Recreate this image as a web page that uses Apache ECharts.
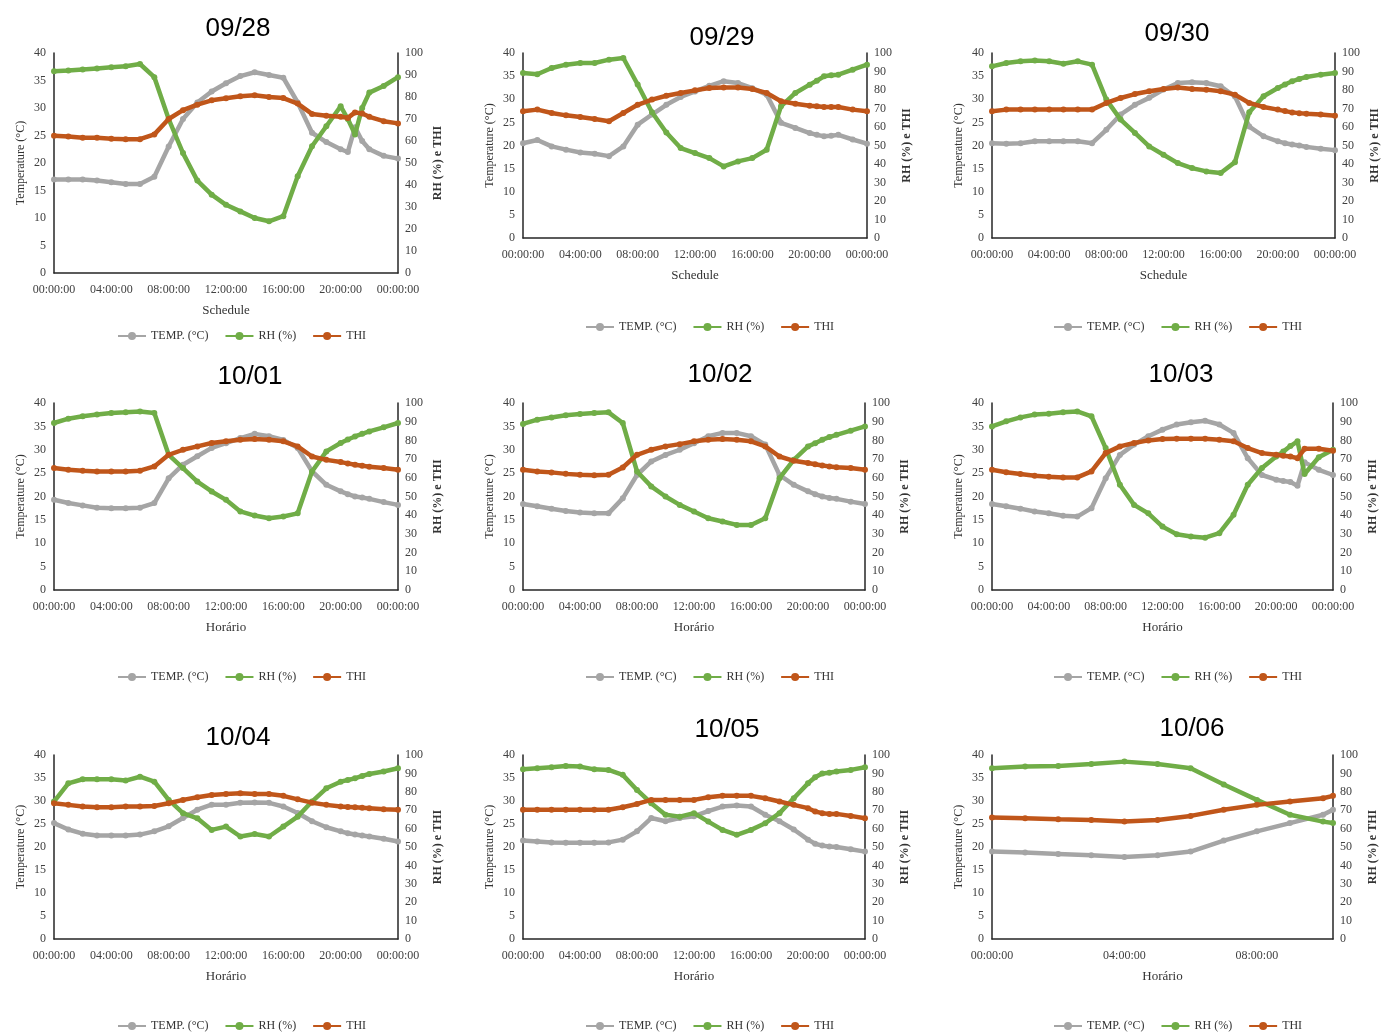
<!DOCTYPE html>
<html>
<head>
<meta charset="utf-8">
<title>TEMP, RH e THI</title>
<script src="https://cdn.jsdelivr.net/npm/echarts@6.0.0/dist/echarts.min.js"></script>
<style>
  html, body { margin: 0; padding: 0; background: #fff; }
  #main { width: 1387px; height: 1032px; }
</style>
</head>
<body>
<div id="main"></div>
<script>
// horas de leitura (dias completos) e o dia 10/06 que acaba por volta das 10h
var HOURS = [0, 1, 2, 3, 4, 5, 6, 7, 8, 9, 10, 11, 12, 13, 14, 15, 16, 17, 18, 19, 20, 20.5, 21, 21.5, 22, 23, 24];
var HOURS_1006 = [0, 1, 2, 3, 4, 5, 6, 7, 8, 9, 10, 10.3];

var SERIES_NAMES = ['TEMP. (°C)', 'RH (%)', 'THI'];

// 09/28
var TEMP_0928 = [17, 17, 17, 16.8, 16.5, 16.2, 16.2, 17.5, 23, 28, 31, 33, 34.5, 35.8, 36.5, 36, 35.5, 31, 25.5, 23.8, 22.5, 22, 26.5, 24, 22.5, 21.3, 20.8];
var RH_0928 = [91.7, 92, 92.5, 93, 93.5, 94, 95, 89, 70, 54.5, 42, 35.6, 31, 28, 25, 23.5, 25.8, 44, 57.6, 66.7, 75.8, 70, 63, 75, 82, 85, 89];
var THI_0928 = [62.4, 62, 61.5, 61.5, 61, 60.8, 60.8, 63, 70, 74, 76.5, 78.5, 79.4, 80.3, 80.8, 80, 79.5, 77, 72.3, 71.5, 71, 70.5, 73, 72.5, 71, 69, 68];
// 09/29
var TEMP_0929 = [20.5, 21.2, 19.8, 19.1, 18.5, 18.2, 17.7, 19.8, 24.5, 26.7, 28.8, 30.5, 31.7, 32.9, 33.9, 33.5, 32.4, 31, 24.9, 23.8, 22.7, 22.3, 22, 22.1, 22.3, 21.3, 20.4];
var RH_0929 = [89.2, 88.5, 91.9, 93.7, 94.6, 94.6, 96.4, 97.3, 83, 68, 57, 48.6, 45.9, 43.2, 38.7, 41.4, 43.2, 47.7, 71.2, 78.4, 82.9, 85, 87.4, 88, 88.3, 91, 93.7];
var THI_0929 = [68.5, 69.4, 67.6, 66.3, 65.4, 64.3, 63.1, 67.6, 72, 74.8, 76.9, 78.4, 79.8, 81.1, 81.4, 81.4, 80.5, 78.4, 73.9, 72.6, 71.5, 71.2, 70.8, 70.8, 70.8, 69.4, 68.5];
// 09/30
var TEMP_0930 = [20.5, 20.4, 20.5, 20.9, 20.9, 20.9, 20.9, 20.5, 23.4, 26.7, 28.8, 30.3, 32.1, 33.5, 33.7, 33.5, 32.8, 30.6, 24.1, 22, 20.9, 20.5, 20.2, 20, 19.7, 19.3, 19];
var RH_0930 = [92.8, 94.6, 95.5, 96, 95.5, 94.2, 95.5, 93.7, 74.8, 64, 56.8, 49.5, 45, 40.5, 37.8, 36, 35.1, 41, 68, 76.6, 81.1, 83, 84.7, 86, 87, 88.3, 89.2];
var THI_0930 = [68.5, 69.4, 69.4, 69.4, 69.4, 69.4, 69.4, 69.4, 73, 75.7, 77.8, 79.3, 80.5, 81.4, 80.5, 80.2, 79.3, 77.5, 73, 70.8, 69.4, 68.6, 67.9, 67.5, 67.2, 66.7, 66.1];
// 10/01
var TEMP_1001 = [19.3, 18.6, 18.1, 17.6, 17.5, 17.5, 17.6, 18.6, 23.9, 26.8, 28.6, 30.4, 31.4, 32.5, 33.4, 32.9, 32.1, 30.4, 25.4, 22.5, 21.1, 20.5, 20, 19.8, 19.5, 18.8, 18.2];
var RH_1001 = [89.3, 91.6, 92.9, 93.8, 94.6, 95, 95.5, 94.6, 72.3, 65.2, 58, 52.7, 48.2, 42, 39.8, 38.4, 39.3, 41, 63.4, 74.1, 78.6, 80.5, 82.1, 83.5, 84.8, 87, 89.3];
var THI_1001 = [65.2, 64.3, 63.8, 63.4, 63.4, 63.4, 63.8, 66.1, 72.3, 75, 76.8, 78.6, 79.5, 80.4, 80.7, 80.4, 79.5, 76.8, 71.4, 69.6, 68.4, 67.7, 67, 66.5, 65.9, 65.2, 64.3];
// 10/02
var TEMP_1002 = [18.4, 17.9, 17.4, 16.9, 16.6, 16.4, 16.4, 19.6, 24.6, 27.5, 28.9, 30, 31.4, 32.9, 33.6, 33.6, 32.9, 31.1, 24.6, 22.5, 21.1, 20.5, 20, 19.7, 19.5, 18.9, 18.4];
var RH_1002 = [88.8, 91.1, 92.3, 93.4, 94.1, 94.6, 95, 89.3, 63.4, 55.4, 50, 45.5, 42, 38.4, 36.6, 34.8, 34.8, 38.4, 59.8, 69.6, 76.8, 78.5, 80.4, 81.8, 83, 85.2, 87.5];
var THI_1002 = [64.3, 63.4, 62.9, 62.1, 61.6, 61.3, 61.6, 65.5, 72.3, 75, 76.8, 78, 79.5, 80.4, 80.7, 80.4, 79.5, 76.8, 71.4, 69.1, 67.9, 67.2, 66.6, 66.1, 65.7, 65.2, 64.3];
// 10/03
var TEMP_1003 = [18.4, 17.9, 17.4, 16.8, 16.4, 15.9, 15.7, 17.5, 23.9, 28.9, 31.1, 32.9, 34.3, 35.4, 35.9, 36.2, 35.4, 33.6, 28.2, 24.6, 23.6, 23.3, 23.1, 22.3, 27.3, 25.7, 24.6];
var RH_1003 = [87.5, 90.2, 92.3, 93.8, 94.3, 95, 95.5, 92.9, 75.9, 56.3, 45.5, 41, 33.9, 29.8, 28.6, 28, 30.4, 40.2, 56.3, 65.2, 71.4, 74, 77, 79.5, 62, 71, 75];
var THI_1003 = [64.3, 63, 62, 61.1, 60.5, 60.2, 60.2, 63.4, 73.2, 76.8, 78.6, 80, 80.7, 80.9, 80.9, 80.9, 80.4, 79.5, 75.9, 73.2, 72.3, 71.8, 71.4, 70.5, 75.5, 75.5, 74.5];
// 10/04
var TEMP_1004 = [25.2, 23.8, 22.9, 22.5, 22.5, 22.5, 22.7, 23.4, 24.5, 26.3, 28.1, 29.2, 29.2, 29.6, 29.7, 29.6, 28.8, 27.4, 25.6, 24.3, 23.4, 23, 22.7, 22.5, 22.3, 21.8, 21.2];
var RH_1004 = [74.7, 84.6, 86.8, 86.8, 86.8, 86.1, 88.2, 85.5, 75.6, 68.4, 65.6, 59.3, 61.1, 55.7, 57.1, 55.7, 61.1, 66.5, 74.7, 81.9, 85.5, 86.4, 87.3, 88.6, 89.7, 91, 92.8];
var THI_1004 = [73.8, 72.9, 72, 71.6, 71.6, 72, 72, 72.3, 73.8, 75.6, 77, 78.3, 78.8, 79.2, 78.8, 78.8, 77.8, 75.9, 74.1, 72.9, 72, 71.8, 71.6, 71.3, 71.1, 70.5, 70.2];
// 10/05
var TEMP_1005 = [21.4, 21.2, 21, 20.9, 20.9, 20.9, 21, 21.6, 23.4, 26.3, 25.6, 26.3, 26.7, 27.8, 28.8, 29, 28.8, 27, 25.6, 23.8, 21.6, 20.7, 20.3, 20.1, 20, 19.5, 19];
var RH_1005 = [92.2, 92.8, 93.3, 94, 93.7, 92.2, 91.9, 89.2, 81, 73.8, 67.5, 66.5, 68.4, 63.8, 59.3, 56.6, 59.3, 62.9, 68.4, 76.5, 84.6, 87.9, 90, 90.4, 91, 91.9, 93.3];
var THI_1005 = [70.2, 70.2, 70.2, 70.2, 70.2, 70.2, 70.2, 71.6, 73.4, 75.6, 75.6, 75.6, 75.6, 77, 77.8, 77.8, 77.8, 76.5, 74.7, 72.9, 71.1, 69.3, 68.4, 68, 68, 66.9, 65.6];
// 10/06
var TEMP_1006 = [19, 18.8, 18.5, 18.2, 17.8, 18.2, 19, 21.4, 23.4, 25.2, 27, 28.1];
var RH_1006 = [92.8, 93.7, 94, 95.1, 96.4, 95.1, 92.8, 84, 75.6, 67.5, 63.8, 63];
var THI_1006 = [66, 65.6, 65.1, 64.7, 63.8, 64.7, 66.9, 70.2, 72.9, 74.7, 76.5, 77.8];

var panels = [
    { day: '09/28', hours: HOURS, xName: 'Schedule', data: [TEMP_0928, RH_0928, THI_0928] },
    { day: '09/29', hours: HOURS, xName: 'Schedule', data: [TEMP_0929, RH_0929, THI_0929] },
    { day: '09/30', hours: HOURS, xName: 'Schedule', data: [TEMP_0930, RH_0930, THI_0930] },
    { day: '10/01', hours: HOURS, xName: 'Horário', data: [TEMP_1001, RH_1001, THI_1001] },
    { day: '10/02', hours: HOURS, xName: 'Horário', data: [TEMP_1002, RH_1002, THI_1002] },
    { day: '10/03', hours: HOURS, xName: 'Horário', data: [TEMP_1003, RH_1003, THI_1003] },
    { day: '10/04', hours: HOURS, xName: 'Horário', data: [TEMP_1004, RH_1004, THI_1004] },
    { day: '10/05', hours: HOURS, xName: 'Horário', data: [TEMP_1005, RH_1005, THI_1005] },
    { day: '10/06', hours: HOURS_1006, xName: 'Horário', data: [TEMP_1006, RH_1006, THI_1006] }
];

// posição de cada quadro na página (px)
var boxes = [
    { left: 54, top: 53, width: 344, height: 220, tx: 233, ty: 11, lx: 112, ly: 325 },
    { left: 523, top: 53, width: 344, height: 185, tx: 717, ty: 20, lx: 580, ly: 316 },
    { left: 992, top: 53, width: 343, height: 185, tx: 1172, ty: 16, lx: 1048, ly: 316 },
    { left: 54, top: 403, width: 344, height: 187, tx: 245, ty: 359, lx: 112, ly: 666 },
    { left: 523, top: 403, width: 342, height: 187, tx: 715, ty: 357, lx: 580, ly: 666 },
    { left: 992, top: 403, width: 341, height: 187, tx: 1176, ty: 357, lx: 1048, ly: 666 },
    { left: 54, top: 755, width: 344, height: 184, tx: 233, ty: 720, lx: 112, ly: 1015 },
    { left: 523, top: 755, width: 342, height: 184, tx: 722, ty: 712, lx: 580, ly: 1015 },
    { left: 992, top: 755, width: 341, height: 184, tx: 1187, ty: 711, lx: 1048, ly: 1015 }
];

var COLORS = ['#a5a5a5', '#70ad47', '#c0561a'];
var SERIF = 'Liberation Serif';
var AXIS_COLOR = '#262626';

function pad(n) { return (n < 10 ? '0' : '') + n; }

var option = {
    animation: false,
    backgroundColor: '#fff',
    title: [], grid: [], xAxis: [], yAxis: [], legend: [], series: []
};

panels.forEach(function (p, i) {
    var b = boxes[i];
    var last = p.hours[p.hours.length - 1];

    option.title.push({
        text: p.day,
        left: b.tx, top: b.ty, textAlign: 'center',
        textStyle: { fontFamily: 'Liberation Sans', fontSize: 26, fontWeight: 'normal', color: '#000' }
    });
    option.grid.push({ left: b.left, top: b.top, width: b.width, height: b.height });

    option.xAxis.push({
        type: 'value', gridIndex: i, min: 0, max: last, interval: 4,
        name: p.xName, nameLocation: 'middle', nameGap: 31,
        nameTextStyle: { fontFamily: SERIF, fontSize: 13, color: '#333' },
        axisLine: { lineStyle: { color: AXIS_COLOR, width: 1.5 } },
        axisTick: { show: false },
        splitLine: { show: false },
        axisLabel: {
            fontFamily: SERIF, fontSize: 12, color: '#404040', margin: 11,
            showMaxLabel: last === 24,
            formatter: function (v) { return v % 4 === 0 ? pad(v % 24) + ':00:00' : ''; }
        }
    });

    option.yAxis.push({
        type: 'value', gridIndex: i, position: 'left', min: 0, max: 40, interval: 5,
        name: 'Temperature (°C)', nameLocation: 'middle', nameGap: 27,
        nameTextStyle: { fontFamily: SERIF, fontSize: 12, color: '#333' },
        axisLine: { show: true, lineStyle: { color: AXIS_COLOR, width: 1.5 } },
        axisTick: { show: false }, splitLine: { show: false },
        axisLabel: { fontFamily: SERIF, fontSize: 12, color: '#404040', margin: 8 }
    });
    option.yAxis.push({
        type: 'value', gridIndex: i, position: 'right', min: 0, max: 100, interval: 10,
        name: 'RH (%) e THI', nameLocation: 'middle', nameGap: 34,
        nameTextStyle: { fontFamily: SERIF, fontSize: 12, fontWeight: 'bold', color: '#333' },
        axisLine: { show: true, lineStyle: { color: AXIS_COLOR, width: 1.5 } },
        axisTick: { show: false }, splitLine: { show: false },
        axisLabel: { fontFamily: SERIF, fontSize: 12, color: '#404040', margin: 7 }
    });

    option.legend.push({
        data: SERIES_NAMES, left: b.lx, top: b.ly,
        itemWidth: 28, itemHeight: 10, itemGap: 16,
        textStyle: { fontFamily: SERIF, fontSize: 12, color: '#333' }
    });

    SERIES_NAMES.forEach(function (name, k) {
        option.series.push({
            name: name, type: 'line',
            xAxisIndex: i, yAxisIndex: i * 2 + (k === 0 ? 0 : 1),
            data: p.hours.map(function (h, j) { return [h, p.data[k][j]]; }),
            symbol: 'circle', symbolSize: 6, showSymbol: true,
            color: COLORS[k],
            lineStyle: { width: 4.5, color: COLORS[k] },
            itemStyle: { color: COLORS[k] },
            z: 2 + k
        });
    });
});

var chart = echarts.init(document.getElementById('main'));
chart.setOption(option);
</script>
</body>
</html>
